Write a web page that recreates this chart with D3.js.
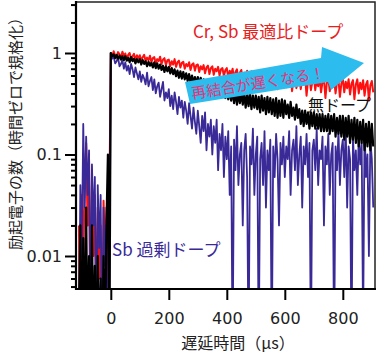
<!DOCTYPE html>
<html>
<head>
<meta charset="utf-8">
<script src="https://cdn.jsdelivr.net/npm/d3@7"></script>
<style>
body { margin: 0; background: #fff; }
text { font-family: "DejaVu Sans", sans-serif; }
.jp { font-family: "Noto Sans CJK JP", sans-serif; }
</style>
</head>
<body>
<svg id="chart" width="380" height="353"></svg>
<script>
// sample times (us), one every 5 us from -110 to 905
const times = d3.range(-110, 910, 5)

// Cr, Sb optimal ratio doping
const red = [
  0.02, 0.001, 0.04, 0.008, 0.06, 0.13, 0.02, 0.09, 0.001, 0.05, 0.01, 0.04, 0.002, 0.03, 0.006, 0.02, 0.001, 0.035, 0.01, 0.03, 0.004, 0.035,
  1.00, 0.93, 1.04, 0.95, 0.90, 1.02, 0.97, 0.91, 1.03, 0.94,
  0.99, 0.88, 0.96, 1.00, 0.87, 0.93, 0.98, 0.86, 0.95, 0.89,
  0.95, 0.84, 0.91, 0.96, 0.83, 0.90, 0.85, 0.94, 0.81, 0.89,
  0.91, 0.79, 0.87, 0.83, 0.92, 0.78, 0.86, 0.89, 0.76, 0.85,
  0.86, 0.74, 0.83, 0.77, 0.87, 0.73, 0.81, 0.84, 0.72, 0.80,
  0.82, 0.70, 0.78, 0.74, 0.81, 0.68, 0.77, 0.79, 0.67, 0.76,
  0.77, 0.65, 0.74, 0.69, 0.76, 0.63, 0.72, 0.75, 0.62, 0.71,
  0.74, 0.61, 0.70, 0.66, 0.73, 0.60, 0.69, 0.71, 0.59, 0.68,
  0.71, 0.57, 0.67, 0.62, 0.70, 0.56, 0.65, 0.69, 0.55, 0.64,
  0.68, 0.54, 0.64, 0.59, 0.67, 0.52, 0.62, 0.66, 0.53, 0.61,
  0.65, 0.51, 0.61, 0.56, 0.64, 0.49, 0.60, 0.63, 0.50, 0.58,
  0.63, 0.48, 0.59, 0.53, 0.62, 0.44, 0.57, 0.61, 0.47, 0.56,
  0.61, 0.46, 0.57, 0.51, 0.60, 0.42, 0.55, 0.59, 0.45, 0.54,
  0.59, 0.44, 0.55, 0.49, 0.58, 0.38, 0.53, 0.57, 0.43, 0.52,
  0.58, 0.43, 0.54, 0.47, 0.57, 0.41, 0.52, 0.56, 0.36, 0.51,
  0.57, 0.42, 0.53, 0.46, 0.56, 0.40, 0.51, 0.55, 0.37, 0.50,
  0.56, 0.41, 0.52, 0.45, 0.55, 0.39, 0.50, 0.54, 0.35, 0.49,
  0.55, 0.40, 0.51, 0.44, 0.54, 0.38, 0.49, 0.53, 0.34, 0.48,
  0.53, 0.41
]

// Sb excess doping
const blue = [
  0.001, 0.05, 0.01, 0.2, 0.03, 0.15, 0.04, 0.11, 0.002, 0.08, 0.02, 0.06, 0.001, 0.05, 0.012, 0.04, 0.001, 0.03, 0.008, 0.02, 0.001, 0.003,
  1.00, 0.88, 0.92, 0.79, 0.83, 0.90, 0.74, 0.78, 0.85, 0.70,
  0.81, 0.67, 0.75, 0.62, 0.78, 0.69, 0.58, 0.72, 0.63, 0.55,
  0.66, 0.52, 0.61, 0.56, 0.49, 0.64, 0.47, 0.53, 0.58, 0.43,
  0.55, 0.40, 0.47, 0.51, 0.37, 0.44, 0.52, 0.34, 0.41, 0.36,
  0.44, 0.30, 0.38, 0.28, 0.41, 0.33, 0.25, 0.37, 0.29, 0.34,
  0.23, 0.33, 0.27, 0.20, 0.32, 0.24, 0.18, 0.29, 0.21, 0.16,
  0.27, 0.19, 0.13, 0.24, 0.17, 0.26, 0.11, 0.20, 0.15, 0.22,
  0.10, 0.19, 0.13, 0.22, 0.07, 0.16, 0.11, 0.20, 0.06, 0.15,
  0.09, 0.17, 0.04, 0.12, 0.001, 0.14, 0.07, 0.19, 0.05, 0.10,
  0.13, 0.02, 0.11, 0.16, 0.06, 0.001, 0.12, 0.08, 0.18, 0.04,
  0.10, 0.15, 0.001, 0.09, 0.13, 0.05, 0.17, 0.03, 0.11, 0.07,
  0.14, 0.001, 0.12, 0.06, 0.16, 0.09, 0.02, 0.13, 0.08, 0.15,
  0.06, 0.12, 0.09, 0.17, 0.04, 0.11, 0.14, 0.07, 0.19, 0.05,
  0.10, 0.15, 0.03, 0.12, 0.08, 0.16, 0.06, 0.13, 0.001, 0.11,
  0.14, 0.07, 0.18, 0.05, 0.11, 0.09, 0.15, 0.02, 0.12, 0.08,
  0.16, 0.04, 0.10, 0.13, 0.001, 0.12, 0.07, 0.17, 0.05, 0.11,
  0.14, 0.06, 0.19, 0.03, 0.12, 0.09, 0.001, 0.15, 0.07, 0.11,
  0.04, 0.16, 0.08, 0.13, 0.002, 0.18, 0.06, 0.10, 0.01, 0.14,
  0.09, 0.03
]

// undoped
const black = [
  0.003, 0.02, 0.001, 0.015, 0.001, 0.03, 0.001, 0.01, 0.001, 0.02, 0.001, 0.008, 0.001, 0.01, 0.001, 0.006, 0.001, 0.01, 0.001, 0.02, 0.1, 0.001,
  1.00, 0.93, 0.97, 0.89, 0.96, 0.88, 0.94, 0.86, 0.93, 0.85,
  0.93, 0.84, 0.90, 0.81, 0.91, 0.83, 0.88, 0.79, 0.87, 0.81,
  0.87, 0.77, 0.85, 0.78, 0.83, 0.74, 0.82, 0.75, 0.80, 0.72,
  0.81, 0.71, 0.79, 0.70, 0.77, 0.68, 0.75, 0.65, 0.74, 0.66,
  0.73, 0.63, 0.71, 0.62, 0.69, 0.59, 0.67, 0.57, 0.66, 0.56,
  0.65, 0.55, 0.63, 0.53, 0.62, 0.51, 0.60, 0.50, 0.58, 0.49,
  0.58, 0.48, 0.57, 0.46, 0.55, 0.44, 0.53, 0.43, 0.52, 0.42,
  0.51, 0.41, 0.50, 0.39, 0.48, 0.38, 0.47, 0.37, 0.45, 0.36,
  0.45, 0.35, 0.44, 0.34, 0.43, 0.32, 0.42, 0.31, 0.41, 0.32,
  0.41, 0.31, 0.40, 0.29, 0.39, 0.30, 0.40, 0.28, 0.38, 0.29,
  0.38, 0.28, 0.37, 0.26, 0.38, 0.27, 0.36, 0.25, 0.37, 0.26,
  0.36, 0.25, 0.35, 0.24, 0.36, 0.23, 0.34, 0.24, 0.35, 0.23,
  0.34, 0.25, 0.31, 0.23, 0.33, 0.24, 0.29, 0.22, 0.31, 0.23,
  0.28, 0.20, 0.27, 0.19, 0.27, 0.20, 0.26, 0.18, 0.26, 0.19,
  0.26, 0.18, 0.25, 0.18, 0.25, 0.17, 0.25, 0.17, 0.24, 0.17,
  0.25, 0.16, 0.24, 0.17, 0.25, 0.15, 0.23, 0.16, 0.24, 0.15,
  0.24, 0.14, 0.23, 0.15, 0.24, 0.13, 0.22, 0.14, 0.23, 0.13,
  0.22, 0.12, 0.21, 0.13, 0.22, 0.11, 0.20, 0.12, 0.21, 0.11,
  0.20, 0.12
]

const xTicks = [0, 200, 400, 600, 800]
const yTicks = [0.01, 0.1, 1]
const yTickLabels = ['0.01', '0.1', '1']

const svg = d3.select('#chart')
const x = d3.scaleLinear().domain([-120, 911]).range([76, 375])
const y = d3.scaleLog().domain([0.00473, 3.18]).range([289, 2])

svg.append('defs').append('clipPath').attr('id', 'plot-clip')
    .append('rect')
    .attr('x', x.range()[0]).attr('y', y.range()[1])
    .attr('width', x.range()[1] - x.range()[0])
    .attr('height', y.range()[0] - y.range()[1])

const line = d3.line()
    .x((d, i) => x(times[i]))
    .y(d => y(Math.max(d, 1e-4)))

const series = [
    { values: red, color: '#ff1010', width: 2 },
    { values: blue, color: '#3a2a98', width: 1.8 },
    { values: black, color: '#000000', width: 2.2 }
]

svg.append('g')
    .attr('clip-path', 'url(#plot-clip)')
    .selectAll('path')
    .data(series)
    .join('path')
    .attr('d', d => line(d.values))
    .attr('fill', 'none')
    .attr('stroke', d => d.color)
    .attr('stroke-width', d => d.width)
    .attr('stroke-linejoin', 'round')

// frame
svg.append('rect')
    .attr('x', 76).attr('y', 2).attr('width', 299).attr('height', 287)
    .attr('fill', 'none').attr('stroke', '#222').attr('stroke-width', 1.5)

// minor log ticks
let minor = []
for (let e = -3; e <= 0; e++)
    for (let k = 2; k <= 9; k++) {
        let v = k * Math.pow(10, e)
        if (v > y.domain()[0] && v < y.domain()[1]) minor.push(v)
    }

const yMinor = svg.append('g').attr('transform', 'translate(76,0)')
    .call(d3.axisLeft(y).tickValues(minor).tickSize(5).tickFormat(''))
const yMajor = svg.append('g').attr('transform', 'translate(76,0)')
    .call(d3.axisLeft(y).tickValues(yTicks).tickSize(11).tickPadding(3)
        .tickFormat((d, i) => yTickLabels[i]))
const xAxis = svg.append('g').attr('transform', 'translate(0,289)')
    .call(d3.axisBottom(x).tickValues(xTicks).tickSize(11).tickPadding(13))

for (const g of [yMinor, yMajor, xAxis]) {
    g.select('.domain').remove()
    g.selectAll('line').attr('stroke', '#000').attr('stroke-width', 2)
    g.selectAll('text').style('font-size', '16px').attr('fill', '#222')
}

// axis lines
svg.append('line').attr('x1', 76).attr('x2', 76).attr('y1', 1).attr('y2', 290)
    .attr('stroke', '#000').attr('stroke-width', 2.2)
svg.append('line').attr('x1', 75).attr('x2', 376).attr('y1', 289).attr('y2', 289)
    .attr('stroke', '#000').attr('stroke-width', 2.2)

// axis titles
svg.append('text').attr('class', 'jp')
    .attr('x', 238).attr('y', 349)
    .attr('text-anchor', 'middle')
    .style('font-size', '16px').attr('fill', '#222')
    .text('遅延時間（μs）')

svg.append('text').attr('class', 'jp')
    .attr('transform', 'translate(14,130) rotate(-90)')
    .attr('text-anchor', 'middle')
    .attr('dominant-baseline', 'central')
    .style('font-size', '15px').attr('fill', '#222')
    .text('励起電子の数（時間ゼロで規格化）')

// arrow annotation
svg.append('polygon')
    .attr('points', '185,82 321,58 322,47 364,63 331,90 328,82 190,104')
    .attr('fill', '#2dbcee')

svg.append('text').attr('class', 'jp')
    .attr('transform', 'translate(258,82) rotate(-9)')
    .attr('text-anchor', 'middle')
    .attr('dominant-baseline', 'central')
    .style('font-size', '15px').attr('fill', '#e4357a')
    .text('再結合が遅くなる！')

// series labels
const labels = [
    { text: 'Cr, Sb 最適比ドープ', x: 193, y: 38, size: 17, color: '#e8201c' },
    { text: '無ドープ', x: 308, y: 111, size: 16, color: '#111' },
    { text: 'Sb 過剰ドープ', x: 112, y: 256, size: 17, color: '#3a2a98' }
]
svg.append('g').selectAll('text')
    .data(labels)
    .join('text')
    .attr('class', 'jp')
    .attr('x', d => d.x).attr('y', d => d.y)
    .style('font-size', d => d.size + 'px')
    .attr('fill', d => d.color)
    .text(d => d.text)
</script>
</body>
</html>
